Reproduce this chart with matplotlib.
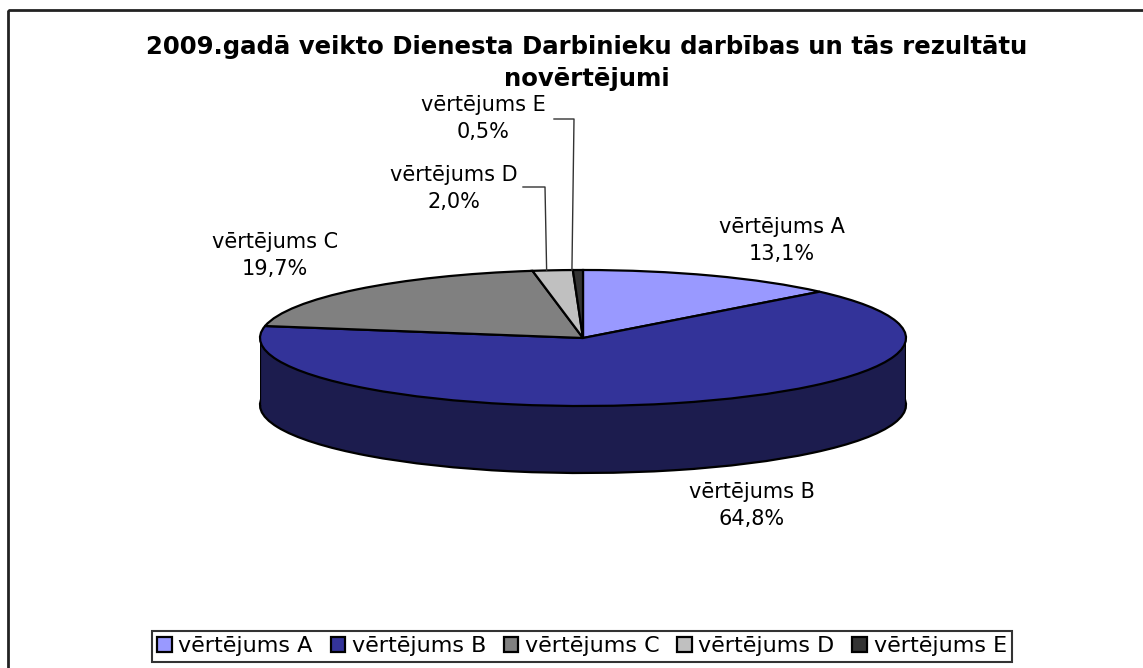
import numpy as np
import matplotlib
matplotlib.use("Agg")
import matplotlib.pyplot as plt
from matplotlib.patches import Rectangle

# ── data ─────────────────────────────────────────
labels = ["vērtējums A", "vērtējums B", "vērtējums C", "vērtējums D", "vērtējums E"]
values = [13.1, 64.8, 19.7, 2.0, 0.5]
top_colors = ["#9999FF", "#333399", "#808080", "#C0C0C0", "#333333"]
side_colors = ["#4D4D80", "#1C1C4E", "#404040", "#606060", "#1A1A1A"]
title = "2009.gadā veikto Dienesta Darbinieku darbības un tās rezultātu\nnovērtējumi"

plt.rcParams["font.family"] = ["DejaVu Sans"]

W, H = 1143, 668
fig = plt.figure(figsize=(W / 100, H / 100), dpi=100)

# pie geometry in pixels
CX, CY, RX, RY, DEPTH = 583, 338, 323, 68, 67

# pie axes: data radius 1 -> RX px horizontally, RY px vertically
ax = fig.add_axes([(CX - RX) / W, (H - CY - RY - DEPTH) / H,
                   2 * RX / W, (2 * RY + DEPTH) / H])
edge = dict(edgecolor="black", linewidth=1.6)
# bottom of the cylinder
ax.pie(values, colors=side_colors, startangle=90, counterclock=False,
       center=(0, -DEPTH / RY), radius=1, wedgeprops=edge)
ax.add_patch(Rectangle((-1, -DEPTH / RY), 2, DEPTH / RY, facecolor=side_colors[1],
                       edgecolor="none", zorder=2))
ax.plot([-1, -1], [-DEPTH / RY, 0], color="black", lw=1.6, zorder=3)
ax.plot([1, 1], [-DEPTH / RY, 0], color="black", lw=1.6, zorder=3)
wedges, _ = ax.pie(values, colors=top_colors, startangle=90, counterclock=False,
                   radius=1, wedgeprops=edge)
for w in wedges:
    w.set_zorder(4)
ax.set_aspect("auto")
ax.set_xlim(-1, 1)
ax.set_ylim(-1 - DEPTH / RY, 1)
ax.axis("off")

# overlay in pixel coordinates for text
ov = fig.add_axes([0, 0, 1, 1], zorder=5)
ov.set_xlim(0, W)
ov.set_ylim(H, 0)
ov.axis("off")
ov.patch.set_alpha(0)

# chart border
ov.add_patch(Rectangle((8, 10), W + 20, H + 20, fill=False, edgecolor="#222222", lw=2))

ov.text(587, 47, title.split("\n")[0], ha="center", va="center",
        fontsize=17.6, fontweight="bold")
ov.text(587, 79, title.split("\n")[1], ha="center", va="center",
        fontsize=17.6, fontweight="bold")

label_pos = [(782, 227), (752, 492), (275, 242), (454, 175), (483, 105)]
for name, v, (x, y) in zip(labels, values, label_pos):
    ov.text(x, y, name, ha="center", va="center", fontsize=15)
    ov.text(x, y + 27, f"{v:.1f}%".replace(".", ","), ha="center", va="center", fontsize=15)

# leader lines for the small slices (D and E)
total = sum(values)
cum = np.cumsum(values)
for i, (sx, ex, ly) in zip([3, 4], [(523, 545, 187), (554, 574, 119)]):
    mid = np.deg2rad((cum[i] - values[i] / 2) / total * 360)
    px = CX + RX * np.sin(mid)
    py = CY - RY * np.cos(mid)
    ov.plot([sx, ex, px - 6], [ly, ly, py], color="#333333", lw=1)

fig.legend(wedges, labels, loc="lower center", bbox_to_anchor=(582 / W, 6 / H),
           ncol=5, fontsize=16, frameon=True, fancybox=False, edgecolor="black",
           handlelength=0.65, handleheight=0.65, handletextpad=0.3,
           columnspacing=0.8, borderpad=0.25, borderaxespad=0)
leg = fig.legends[0]
leg.get_frame().set_linewidth(1.5)

fig.savefig("out.png", dpi=100)
